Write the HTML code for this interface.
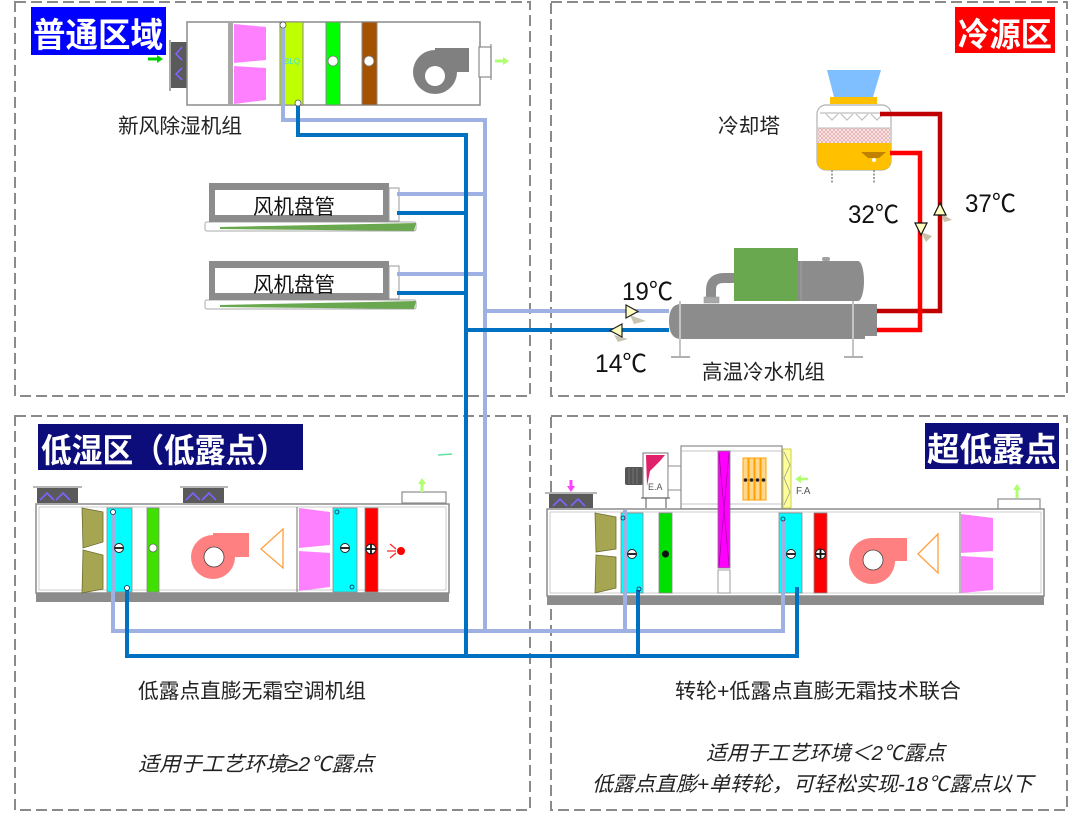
<!DOCTYPE html>
<html><head><meta charset="utf-8"><style>
html,body{margin:0;padding:0;background:#fff;}
svg{display:block;}
text{font-family:"Liberation Sans","Noto Sans CJK SC",sans-serif;}
</style></head><body>
<svg width="1080" height="813" viewBox="0 0 1080 813" xmlns="http://www.w3.org/2000/svg">
<defs>
<pattern id="hatch" width="4" height="4" patternUnits="userSpaceOnUse">
<rect width="4" height="4" fill="#fbe6e6"/>
<path d="M0 0L4 4M4 0L0 4" stroke="#e0a0a0" stroke-width="0.6"/>
</pattern>
</defs>
<rect width="1080" height="813" fill="#fff"/>
<!-- dashed zones -->
<g fill="none" stroke="#8a8a8a" stroke-width="2" stroke-dasharray="11 5">
<rect x="15" y="2" width="515" height="394"/>
<rect x="551" y="2" width="516" height="394"/>
<rect x="15" y="416" width="515" height="394"/>
<rect x="551" y="416" width="516" height="394"/>
</g>

<!-- headers -->
<rect x="31" y="7" width="135" height="48" fill="#0000ff"/>
<text x="33" y="47" font-size="34" font-weight="bold" fill="#fff" textLength="130" lengthAdjust="spacingAndGlyphs">普通区域</text>
<rect x="955" y="7" width="100" height="46" fill="#ff0000"/>
<text x="958" y="46" font-size="33" font-weight="bold" fill="#fff" textLength="94" lengthAdjust="spacingAndGlyphs">冷源区</text>
<rect x="38" y="424" width="265" height="46" fill="#0c0c7a"/>
<text x="41" y="462" font-size="33" font-weight="bold" fill="#fff" textLength="246" lengthAdjust="spacingAndGlyphs">低湿区（低露点）</text>
<rect x="925" y="423" width="134" height="46" fill="#0c0c7a"/>
<text x="927" y="461" font-size="33" font-weight="bold" fill="#fff" textLength="130" lengthAdjust="spacingAndGlyphs">超低露点</text>

<!-- ===== top AHU ===== -->
<path d="M148 59H158" stroke="#00d000" stroke-width="3"/><path d="M157 55L163 59L157 63Z" fill="#00d000"/>
<line x1="170" y1="40" x2="170" y2="91" stroke="#8c8c8c" stroke-width="1.5"/>
<rect x="171" y="42" width="17" height="46" fill="#5a5a5a"/>
<path d="M182 47L176 54L182 60M182 68L176 74L182 80" stroke="#8060ff" stroke-width="1.6" fill="none"/>
<rect x="187" y="22" width="293" height="83" fill="#fff" stroke="#8c8c8c" stroke-width="1.5"/>
<rect x="228" y="22" width="5" height="83" fill="#a8a8a8"/>
<polygon points="234,24 266,27 266,60 234,63" fill="#ff80ff"/>
<polygon points="234,66 266,68 266,100 234,104" fill="#ff80ff"/>
<rect x="280" y="22" width="23" height="83" fill="#c0ff00" stroke="#888" stroke-width="1"/>
<text x="284" y="64" font-size="8" fill="#40e0e0">BLQ</text>
<rect x="326" y="22" width="14" height="83" fill="#00ff00" stroke="#888" stroke-width="1"/>
<circle cx="333" cy="61" r="5" fill="#fff" stroke="#777" stroke-width="0.8"/>
<rect x="362" y="22" width="15" height="83" fill="#a45200" stroke="#888" stroke-width="1"/>
<circle cx="369" cy="61" r="5" fill="#fff" stroke="#777" stroke-width="0.8"/>
<circle cx="435" cy="72" r="22" fill="#808080"/>
<rect x="435" y="48" width="34" height="24" fill="#808080"/>
<circle cx="435" cy="76" r="10" fill="#fff"/>
<rect x="479" y="47" width="12" height="30" fill="#fff" stroke="#8c8c8c" stroke-width="1.2"/>
<line x1="491" y1="44" x2="491" y2="80" stroke="#8c8c8c" stroke-width="1.2"/>
<path d="M495 61H504" stroke="#b0ff70" stroke-width="3"/><path d="M503 57L509 61L503 65Z" fill="#b0ff70"/>
<text x="118" y="133" font-size="20.5" fill="#222" textLength="124" lengthAdjust="spacingAndGlyphs">新风除湿机组</text>

<!-- ===== fan coils ===== -->
<g>
<rect x="205" y="222" width="211" height="9" rx="2" fill="#fff" stroke="#aaa" stroke-width="1"/>
<polygon points="220,227 416,223 414,231 220,229" fill="#6aa84f"/>
<rect x="209" y="183" width="180" height="39" fill="#8c8c8c"/>
<rect x="215" y="190" width="168" height="25" fill="#fff"/>
<rect x="389" y="188" width="10" height="33" fill="#fff" stroke="#999" stroke-width="1"/>
<text x="253" y="214" font-size="21" fill="#111" textLength="82" lengthAdjust="spacingAndGlyphs">风机盘管</text>
</g>
<g>
<rect x="205" y="300" width="211" height="9" rx="2" fill="#fff" stroke="#aaa" stroke-width="1"/>
<polygon points="220,305 416,301 414,309 220,307" fill="#6aa84f"/>
<rect x="209" y="261" width="180" height="39" fill="#8c8c8c"/>
<rect x="215" y="268" width="168" height="25" fill="#fff"/>
<rect x="389" y="266" width="10" height="33" fill="#fff" stroke="#999" stroke-width="1"/>
<text x="253" y="292" font-size="21" fill="#111" textLength="82" lengthAdjust="spacingAndGlyphs">风机盘管</text>
</g>

<!-- ===== cooling tower ===== -->
<polygon points="827,70 881,70 873,97 834,97" fill="#7fbfff"/>
<rect x="830" y="97" width="47" height="7" fill="#ffc000"/>
<rect x="817" y="105" width="74" height="65" rx="9" fill="#fff" stroke="#b0b0b0" stroke-width="1.2"/>
<path d="M820 113H888" stroke="#c8c8c8" stroke-width="1.5"/>
<path d="M826 114L832 120L838 114M841 114L847 120L853 114M856 114L862 120L868 114M871 114L877 120L883 114" stroke="#c0c0c0" stroke-width="1.2" fill="none"/>
<rect x="818" y="128" width="72" height="15" fill="url(#hatch)"/>
<line x1="818" y1="128" x2="890" y2="128" stroke="#bbb" stroke-width="1"/>
<path d="M817 143H891V160Q891 170 881 170H827Q817 170 817 160Z" fill="#ffc000"/>
<polygon points="861,152 886,152 879,158 868,158" fill="#c08000"/>
<circle cx="874" cy="160" r="2" fill="#fff"/>
<g stroke="#a0a0a0" stroke-width="2" stroke-dasharray="2 1.5"><line x1="832" y1="170" x2="832" y2="183"/><line x1="874" y1="170" x2="874" y2="183"/></g>
<text x="718" y="133" font-size="20.5" fill="#222" textLength="62" lengthAdjust="spacingAndGlyphs">冷却塔</text>

<!-- red pipes -->
<path d="M880 114H940V311H876" fill="none" stroke="#c00000" stroke-width="4.5"/>
<path d="M890 153H920V330H876" fill="none" stroke="#ff0000" stroke-width="4.5"/>
<polygon points="921,232 932,236 926,242" fill="#c8c0a8"/>
<polygon points="915,223 927,223 921,235" fill="#ffffc0" stroke="#111" stroke-width="1.2"/>
<polygon points="941,213 952,220 944,222" fill="#c8c0a8"/>
<polygon points="934,215 946,215 940,203" fill="#ffffc0" stroke="#111" stroke-width="1.2"/>
<text x="848" y="223" font-size="25" fill="#111" textLength="51" lengthAdjust="spacingAndGlyphs">32℃</text>
<text x="965" y="212" font-size="25" fill="#111" textLength="51" lengthAdjust="spacingAndGlyphs">37℃</text>

<!-- ===== chiller ===== -->
<path d="M711 303V290Q711 278 724 278H736" fill="none" stroke="#8c8c8c" stroke-width="10"/>
<rect x="704" y="297" width="15" height="6" fill="#a8a8a8" stroke="#999" stroke-width="0.6"/>
<rect x="734" y="248" width="64" height="53" fill="#6aa84f"/>
<rect x="798" y="261" width="60" height="40" fill="#8c8c8c"/>
<ellipse cx="858" cy="281" rx="6" ry="20" fill="#8c8c8c"/>
<line x1="801" y1="261" x2="801" y2="301" stroke="#a0a0a0" stroke-width="1"/>
<rect x="822" y="257" width="8" height="4" rx="2" fill="#a0a0a0"/>
<path d="M681 304H865V313H877V327H865V339H681Q669 339 669 321.5Q669 304 681 304Z" fill="#8c8c8c"/>
<rect x="865" y="304" width="12" height="9" fill="#8c8c8c"/>
<rect x="865" y="327" width="12" height="9" fill="#8c8c8c"/>
<g stroke="#c4c4c4" stroke-width="2"><line x1="680" y1="301" x2="680" y2="357"/><line x1="853" y1="301" x2="853" y2="357"/></g>
<g stroke="#b0b0b0" stroke-width="2"><line x1="671" y1="357" x2="690" y2="357"/><line x1="844" y1="357" x2="863" y2="357"/></g>
<text x="622" y="300" font-size="25" fill="#111" textLength="51" lengthAdjust="spacingAndGlyphs">19℃</text>
<text x="595" y="372" font-size="25" fill="#111" textLength="52" lengthAdjust="spacingAndGlyphs">14℃</text>
<text x="702" y="379" font-size="20.5" fill="#222" textLength="123" lengthAdjust="spacingAndGlyphs">高温冷水机组</text>

<!-- ===== bottom-left unit ===== -->
<g stroke="#8c8c8c" stroke-width="1.2"><line x1="33" y1="487" x2="82" y2="487"/><line x1="180" y1="487" x2="228" y2="487"/></g>
<rect x="37" y="488" width="41" height="15" fill="#5a5a5a"/>
<rect x="183" y="488" width="41" height="15" fill="#5a5a5a"/>
<path d="M40 500L47 493L54 500M56 500L63 493L70 500M186 500L193 493L200 500M202 500L209 493L216 500" stroke="#8060ff" stroke-width="1.6" fill="none"/>
<rect x="402" y="492" width="44" height="11" fill="#fff" stroke="#8c8c8c" stroke-width="1.2"/>
<path d="M422 492V483" stroke="#b0ff70" stroke-width="3"/><path d="M418 484L422 478L426 484Z" fill="#b0ff70"/>
<path d="M438 455L452 454" stroke="#60e0a0" stroke-width="1.5"/>
<rect x="36" y="504" width="413" height="89" fill="#fff" stroke="#8c8c8c" stroke-width="1.5"/>
<rect x="39" y="507" width="407" height="83" fill="none" stroke="#c0c0c0" stroke-width="0.8"/>
<rect x="36" y="593" width="413" height="9" fill="#8c8c8c"/>
<polygon points="82,508 103,512 103,542 83,548" fill="#a5a552" stroke="#6e6e30" stroke-width="0.8"/>
<polygon points="83,550 103,555 103,589 82,593" fill="#a5a552" stroke="#6e6e30" stroke-width="0.8"/>
<rect x="107" y="508" width="25" height="84" fill="#00ffff" stroke="#888" stroke-width="0.8"/>
<rect x="147" y="508" width="12" height="84" fill="#40e000" stroke="#888" stroke-width="0.8"/>
<circle cx="153" cy="548" r="4" fill="#fff" stroke="#666" stroke-width="0.8"/>
<circle cx="213" cy="557" r="22" fill="#ff8080"/>
<rect x="213" y="533" width="36" height="24" fill="#ff8080"/>
<circle cx="214" cy="557" r="10" fill="#fff" stroke="#444" stroke-width="0.8"/>
<polygon points="261,549 283,529 283,568" fill="none" stroke="#ffa040" stroke-width="1.3"/>
<line x1="297" y1="507" x2="297" y2="592" stroke="#777" stroke-width="1"/>
<polygon points="299,508 330,512 330,545 299,548" fill="#ff80ff"/>
<polygon points="299,551 330,553 330,587 299,591" fill="#ff80ff"/>
<rect x="333" y="508" width="24" height="84" fill="#00ffff" stroke="#888" stroke-width="0.8"/>
<circle cx="337" cy="512" r="2" fill="none" stroke="#225" stroke-width="0.8"/>
<circle cx="352" cy="587" r="2" fill="none" stroke="#225" stroke-width="0.8"/>
<rect x="365" y="508" width="13" height="84" fill="#ff0000" stroke="#888" stroke-width="0.8"/>
<g stroke="#ff2020" stroke-width="1.2"><line x1="390" y1="544" x2="396" y2="549"/><line x1="387" y1="551" x2="396" y2="551"/><line x1="390" y1="558" x2="396" y2="553"/></g>
<circle cx="401" cy="551" r="4" fill="#ff0000"/>

<!-- ===== bottom-right unit ===== -->
<line x1="545" y1="493" x2="597" y2="493" stroke="#8c8c8c" stroke-width="1.2"/>
<rect x="549" y="494" width="44" height="14" fill="#5a5a5a"/>
<path d="M553 506L560 499L567 506M571 506L578 499L585 506" stroke="#8060ff" stroke-width="1.6" fill="none"/>
<path d="M571 480V487" stroke="#ff40ff" stroke-width="3"/><path d="M567 486L571 492L575 486Z" fill="#ff40ff"/>
<rect x="998" y="499" width="42" height="10" fill="#fff" stroke="#8c8c8c" stroke-width="1.2"/>
<path d="M1017 498V489" stroke="#b0ff70" stroke-width="3"/><path d="M1013 490L1017 484L1021 490Z" fill="#b0ff70"/>
<!-- exhaust fan -->
<rect x="625" y="467" width="18" height="18" rx="2" fill="#555"/>
<g stroke="#888" stroke-width="0.6"><line x1="629" y1="468" x2="629" y2="484"/><line x1="633" y1="468" x2="633" y2="484"/><line x1="637" y1="468" x2="637" y2="484"/></g>
<rect x="643" y="453" width="25" height="45" fill="#fff" stroke="#8c8c8c" stroke-width="1.2"/>
<polygon points="646,455 665,455 660,461 650,471 647,486" fill="#e0206a"/>
<text x="648" y="490" font-size="9" fill="#555">E.A</text>
<g stroke="#555" stroke-width="1"><line x1="641" y1="498" x2="670" y2="498"/><line x1="646" y1="498" x2="646" y2="508"/><line x1="666" y1="498" x2="666" y2="508"/></g>
<rect x="668" y="466" width="13" height="24" fill="#fff" stroke="#8c8c8c" stroke-width="1"/>
<!-- wheel housing -->
<rect x="681" y="446" width="101" height="63" fill="#fff" stroke="#8c8c8c" stroke-width="1.2"/>
<line x1="681" y1="451" x2="782" y2="451" stroke="#b0b0b0" stroke-width="0.8"/>
<line x1="681" y1="504" x2="782" y2="504" stroke="#b0b0b0" stroke-width="0.8"/>
<g fill="#ffd890" stroke="#ffa000" stroke-width="1">
<rect x="743" y="458" width="5" height="42"/><rect x="749" y="458" width="5" height="42"/><rect x="755" y="458" width="5" height="42"/><rect x="761" y="458" width="5" height="42"/>
</g>
<g fill="#222"><circle cx="745.5" cy="480" r="1.8"/><circle cx="751.5" cy="480" r="1.8"/><circle cx="757.5" cy="480" r="1.8"/><circle cx="763.5" cy="480" r="1.8"/></g>
<rect x="783" y="449" width="8" height="59" fill="#ffff99" stroke="#c0c040" stroke-width="0.8"/>
<polyline points="784,452 790,465 784,478 790,492 784,505" fill="none" stroke="#999" stroke-width="0.8"/>
<path d="M800 479H808" stroke="#b0ff70" stroke-width="2.5"/><path d="M801 475L795 479L801 483Z" fill="#b0ff70"/>
<text x="796" y="494" font-size="10" fill="#555">F.A</text>
<!-- main box -->
<rect x="547" y="509" width="497" height="87" fill="#fff" stroke="#8c8c8c" stroke-width="1.5"/>
<rect x="550" y="512" width="491" height="81" fill="none" stroke="#c0c0c0" stroke-width="0.8"/>
<rect x="547" y="596" width="497" height="9" fill="#8c8c8c"/>
<polygon points="595,513 616,517 616,549 596,552" fill="#a5a552" stroke="#6e6e30" stroke-width="0.8"/>
<polygon points="596,555 616,557 616,588 595,593" fill="#a5a552" stroke="#6e6e30" stroke-width="0.8"/>
<rect x="621" y="513" width="22" height="80" fill="#00ffff" stroke="#888" stroke-width="0.8"/>
<rect x="659" y="513" width="13" height="80" fill="#00e000" stroke="#888" stroke-width="0.8"/>
<circle cx="665.5" cy="554" r="3.5" fill="#111"/>
<rect x="718" y="451" width="12" height="117" fill="#ff00ff" stroke="#777" stroke-width="0.8"/>
<g stroke="#a000a0" stroke-width="0.7"><line x1="719" y1="453" x2="729" y2="566"/><line x1="729" y1="453" x2="719" y2="566"/></g>
<rect x="718" y="570" width="12" height="23" fill="#fff" stroke="#888" stroke-width="0.8"/>
<rect x="779" y="513" width="23" height="80" fill="#00ffff" stroke="#888" stroke-width="0.8"/>
<rect x="814" y="513" width="13" height="80" fill="#ff0000" stroke="#888" stroke-width="0.8"/>
<circle cx="872" cy="561" r="23" fill="#ff8080"/>
<rect x="872" y="538" width="35" height="23" fill="#ff8080"/>
<circle cx="873" cy="560" r="10" fill="#fff" stroke="#444" stroke-width="0.8"/>
<polygon points="918,554 938,534 938,573" fill="none" stroke="#ffa040" stroke-width="1.3"/>
<line x1="960" y1="512" x2="960" y2="593" stroke="#777" stroke-width="1"/>
<polygon points="961,514 993,518 993,551 961,553" fill="#ff80ff"/>
<polygon points="961,556 993,558 993,590 961,593" fill="#ff80ff"/>

<!-- ===== pipes ===== -->
<g fill="none" stroke="#9fb1e2" stroke-width="4">
<path d="M283 25V120H485V631"/>
<path d="M397 194H485M397 274H485M485 311H669"/>
<path d="M113 512V631H783V520"/>
<path d="M625 510V631"/>
</g>
<g fill="none" stroke="#0070c0" stroke-width="4">
<path d="M298 103V135H466V656"/>
<path d="M397 213H466M397 293H466M466 330H669"/>
<path d="M127 590V656H797V587"/>
<path d="M638 590V656"/>
</g>
<circle cx="283" cy="25" r="3" fill="#fff" stroke="#556" stroke-width="0.8"/>
<circle cx="298" cy="103" r="3" fill="#fff" stroke="#556" stroke-width="0.8"/>
<circle cx="113" cy="512" r="2.5" fill="#fff" stroke="#225" stroke-width="0.8"/>
<circle cx="127" cy="588" r="2.5" fill="#fff" stroke="#225" stroke-width="0.8"/>
<circle cx="623" cy="518" r="2" fill="none" stroke="#225" stroke-width="0.8"/>
<circle cx="639" cy="589" r="2" fill="none" stroke="#225" stroke-width="0.8"/>
<circle cx="783" cy="519" r="2" fill="none" stroke="#225" stroke-width="0.8"/>

<!-- coil symbols -->
<g fill="#fff" stroke="#222" stroke-width="1">
<circle cx="119" cy="548" r="4.5"/><circle cx="345" cy="548" r="4.5"/>
<circle cx="632" cy="554" r="4.5"/><circle cx="791" cy="554" r="4.5"/>
<circle cx="371" cy="549" r="5"/><circle cx="820.5" cy="554" r="5"/>
</g>
<g stroke="#111" stroke-width="1.8">
<line x1="115" y1="548" x2="123" y2="548"/><line x1="341" y1="548" x2="349" y2="548"/>
<line x1="628" y1="554" x2="636" y2="554"/><line x1="787" y1="554" x2="795" y2="554"/>
<line x1="366" y1="549" x2="376" y2="549"/><line x1="371" y1="544" x2="371" y2="554"/>
<line x1="815.5" y1="554" x2="825.5" y2="554"/><line x1="820.5" y1="549" x2="820.5" y2="559"/>
</g>

<!-- chilled water direction triangles -->
<polygon points="630,315 646,321 634,324" fill="#c8c4b0"/>
<polygon points="626,305 626,318 638,311.5" fill="#ffffc0" stroke="#222" stroke-width="1.2"/>
<polygon points="614,335 628,339 618,342" fill="#c8c4b0"/>
<polygon points="622,324 622,337 610,330.5" fill="#ffffc0" stroke="#222" stroke-width="1.2"/>

<!-- bottom texts -->
<text x="138" y="698" font-size="20.5" fill="#222" textLength="228" lengthAdjust="spacingAndGlyphs">低露点直膨无霜空调机组</text>
<text x="675" y="698" font-size="20.5" fill="#222" textLength="286" lengthAdjust="spacingAndGlyphs">转轮+低露点直膨无霜技术联合</text>
<text x="138" y="771" font-size="20.5" font-style="italic" fill="#222" textLength="236" lengthAdjust="spacingAndGlyphs">适用于工艺环境≥2℃露点</text>
<text x="706" y="760" font-size="20.5" font-style="italic" fill="#222" textLength="239" lengthAdjust="spacingAndGlyphs">适用于工艺环境＜2℃露点</text>
<text x="592" y="791" font-size="20.5" font-style="italic" fill="#222" textLength="441" lengthAdjust="spacingAndGlyphs">低露点直膨+单转轮，可轻松实现-18℃露点以下</text>
</svg>
</body></html>
